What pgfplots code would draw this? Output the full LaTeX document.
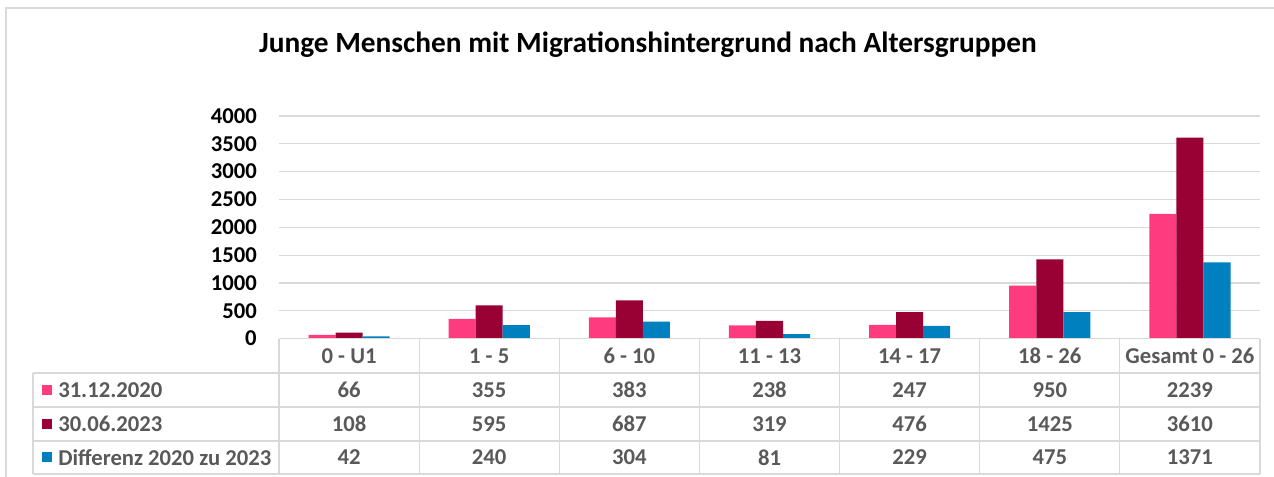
\documentclass[border=0pt]{standalone}
\usepackage{fontspec}
\setmainfont{Carlito}
\usepackage{pgfplots}
\pgfplotsset{compat=1.18}

\definecolor{cPink}{HTML}{FF3B7F}
\definecolor{cWine}{HTML}{990033}
\definecolor{cBlue}{HTML}{0080BF}
\definecolor{cGrid}{HTML}{D9D9D9}
\definecolor{cText}{HTML}{595959}

\begin{document}
\begin{tikzpicture}
% axis sits at the origin; everything else is placed in pixel units around it
\begin{axis}[
    scale only axis,
    width=735.75pt, height=166.95pt,
    xmin=-0.5, xmax=6.5,
    ymin=0, ymax=4000,
    ybar=0pt, bar width=0.193,
    axis line style={draw=none},
    xtick=\empty,
    ytick={0,500,...,4000},
    major tick length=0pt,
    ymajorgrids,
    grid style={cGrid, line width=0.9pt},
    /pgf/number format/assume math mode=true,
    /pgf/number format/1000 sep={},
    yticklabel style={font=\fontsize{17}{19}\selectfont\bfseries, inner sep=0pt, xshift=-16.5pt},
    clip=false,
]
\addplot[fill=cPink, draw=none] coordinates {(0,66) (1,355) (2,383) (3,238) (4,247) (5,950) (6,2239)};
\addplot[fill=cWine, draw=none] coordinates {(0,108) (1,595) (2,687) (3,319) (4,476) (5,1425) (6,3610)};
\addplot[fill=cBlue, draw=none] coordinates {(0,42) (1,240) (2,304) (3,81) (4,229) (5,475) (6,1371)};
\end{axis}

\begin{scope}[x=0.75pt, y=0.75pt, shift={(-209.25pt,-103.8pt)}]
\useasboundingbox (0,0) rectangle (1274,477);
% outer frame (top and left edge visible)
\draw[cGrid, line width=1.2pt] (6,0) -- (6,469) -- (1274,469);

\node[font=\fontsize{22}{26}\selectfont\bfseries, anchor=center] at (648,432)
  {Junge Menschen mit Migrationshintergrund nach Altersgruppen};

% data table
\begin{scope}[cGrid, line width=0.9pt]
\draw (279,138.4) -- (1260,138.4);
\foreach \yy in {104,70,36,3} \draw (33,\yy) -- (1260,\yy);
\draw (33,104) -- (33,3);
\foreach \k in {0,...,7} \draw ({279+140.14*\k},138.4) -- ({279+140.14*\k},3);
\end{scope}

\begin{scope}[font=\fontsize{17}{19}\selectfont\bfseries, text=cText]
\foreach \lab [count=\i from 0] in {0 - U1,1 - 5,6 - 10,11 - 13,14 - 17,18 - 26,Gesamt 0 - 26}
  \node at ({279+140.14*(\i+0.5)},121) {\lab};
\foreach \v [count=\i from 0] in {66,355,383,238,247,950,2239}
  \node at ({279+140.14*(\i+0.5)},87) {\v};
\foreach \v [count=\i from 0] in {108,595,687,319,476,1425,3610}
  \node at ({279+140.14*(\i+0.5)},53) {\v};
\foreach \v [count=\i from 0] in {42,240,304,81,229,475,1371}
  \node at ({279+140.14*(\i+0.5)},19.5) {\v};
\fill[cPink] (42,82) rectangle (52,92);
\fill[cWine] (42,48) rectangle (52,58);
\fill[cBlue] (42,14.5) rectangle (52,24.5);
\node[anchor=west, inner sep=0pt] at (58,87) {31.12.2020};
\node[anchor=west, inner sep=0pt] at (58,53) {30.06.2023};
\node[anchor=west, inner sep=0pt] at (58,19.5) {Differenz 2020 zu 2023};
\end{scope}
\end{scope}
\end{tikzpicture}
\end{document}
